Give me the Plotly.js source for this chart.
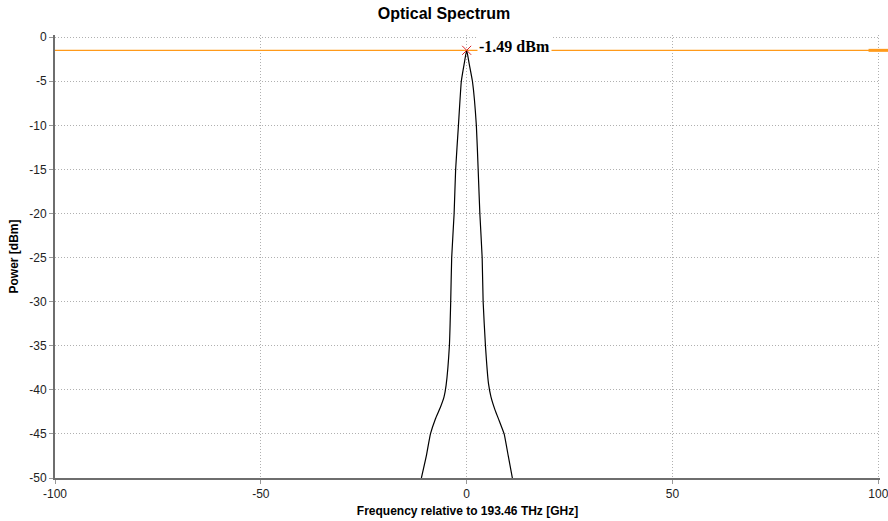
<!DOCTYPE html>
<html>
<head>
<meta charset="utf-8">
<script src="https://cdn.plot.ly/plotly-3.0.1.min.js"></script>
<style>html,body{margin:0;padding:0;background:#fff;}#chart{width:888px;height:521px;}</style>
</head>
<body>
<div id="chart"></div>
<script>
// Spectrum (frequency offset in GHz, power in dBm)
var freq = [-11.0, -9.8, -8.8, -7.6, -6.4, -5.5, -5.0, -4.2, -3.88, -3.64, -3.05, -2.68, -2.0, -1.3, -0.6, 0, 0.6, 1.4, 2.35, 2.79, 3.2, 3.76, 4.0, 4.56, 5.3, 5.9, 6.9, 7.9, 9.1, 10.1, 11.1];
var power = [-50, -47.5, -45, -43.3, -42.0, -40.8, -39.5, -35, -30, -25, -20, -15, -10, -5, -3, -1.49, -3, -5, -10, -15, -20, -25, -30, -35, -39.3, -40.8, -42.3, -43.5, -45, -47.5, -50];
// Peak marker
var peakFreq = [0];
var peakPower = [-1.49];
var peakLabel = "-1.49 dBm";
// Horizontal marker line span
var markerLineX = [-100, 100];
var markerLineY = [-1.49, -1.49];
var xTicks = [-100, -50, 0, 50, 100];
var yTicks = [0, -5, -10, -15, -20, -25, -30, -35, -40, -45, -50];

var traces = [
  {x: markerLineX, y: markerLineY, mode: 'lines', line: {color: '#ff9a1a', width: 1.2}, hoverinfo: 'skip', showlegend: false, cliponaxis: false},
  {x: [markerLineX[1]], y: [markerLineY[1]], mode: 'markers', marker: {symbol: 'line-ew', size: 14, line: {color: '#ff9a1a', width: 3}}, cliponaxis: false, showlegend: false, hoverinfo: 'skip'},
  {x: freq, y: power, mode: 'lines', line: {color: '#000000', width: 1.2, shape: 'spline', smoothing: 0.4}, showlegend: false},
  {x: peakFreq, y: peakPower, mode: 'markers', marker: {symbol: 'x-thin-open', size: 9, line: {color: '#f7a545', width: 1}}, showlegend: false, cliponaxis: false}
];

var layout = {
  width: 888, height: 521,
  margin: {l: 55, r: 8, t: 35, b: 43},
  paper_bgcolor: '#ffffff', plot_bgcolor: '#ffffff',
  font: {family: 'Arial, Liberation Sans, sans-serif', size: 12, color: '#222'},
  title: {text: '<b>Optical Spectrum</b>', x: 0.5, xanchor: 'center', y: 0.985, yanchor: 'top', font: {size: 16, color: '#000'}},
  xaxis: {
    range: [-100, 100.4], tickvals: xTicks, ticktext: xTicks.map(String), ticklabeloverflow: 'allow',
    showgrid: true, gridcolor: '#b0b0b0', griddash: '1px,2px', gridwidth: 1,
    zeroline: false, showline: true, linecolor: '#6e6e6e', linewidth: 2,
    ticks: 'outside', ticklen: 4, tickcolor: '#999', tickfont: {size: 12, color: '#222'},
    title: {text: '<b>Frequency relative to 193.46 THz [GHz]</b>', font: {size: 12, color: '#000'}, standoff: 6}
  },
  yaxis: {
    range: [-50, 0.25], tickvals: yTicks, ticktext: yTicks.map(String),
    showgrid: true, gridcolor: '#b0b0b0', griddash: '1px,2px', gridwidth: 1,
    zeroline: false, showline: true, linecolor: '#6e6e6e', linewidth: 2,
    ticks: 'outside', ticklen: 4, tickcolor: '#999', tickfont: {size: 12, color: '#222'},
    title: {text: '<b>Power [dBm]</b>', font: {size: 12, color: '#000'}, standoff: 8}
  },
  annotations: [{
    x: peakFreq[0], y: peakPower[0], xref: 'x', yref: 'y', text: '<b>' + peakLabel + '</b>',
    showarrow: false, xanchor: 'left', yanchor: 'middle', xshift: 10, yshift: 4,
    bgcolor: '#ffffff', borderpad: 1,
    font: {family: 'Liberation Serif, Times New Roman, serif', size: 16, color: '#000'}
  }]
};

Plotly.newPlot('chart', traces, layout, {displayModeBar: false, staticPlot: true});
</script>
</body>
</html>
